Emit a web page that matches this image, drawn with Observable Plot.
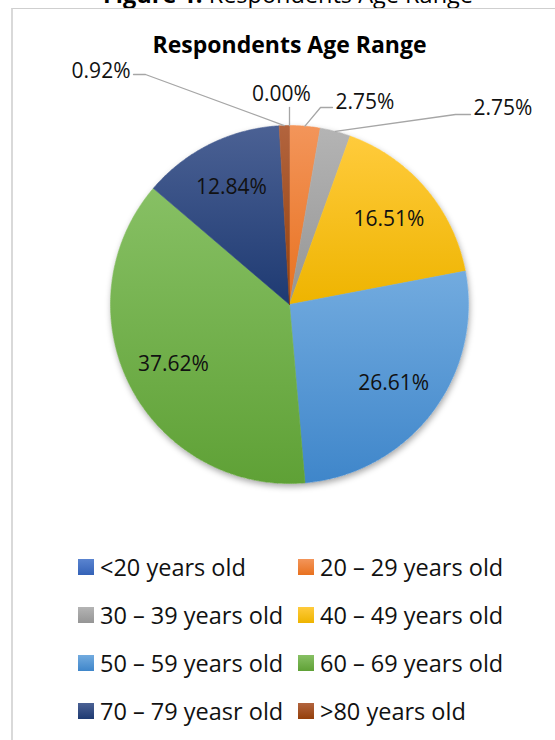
<!DOCTYPE html>
<html>
<head>
<meta charset="utf-8">
<script src="https://cdn.jsdelivr.net/npm/d3@7"></script>
<script src="https://cdn.jsdelivr.net/npm/@observablehq/plot@0.6"></script>
<style>
html, body { margin: 0; padding: 0; background: #fff; }
body { position: relative; width: 555px; height: 740px; overflow: hidden; font-family: "Open Sans", sans-serif; }
#header { position: absolute; left: 0; width: 576px; top: -19px; text-align: center; font-size: 23.5px; line-height: 26px; color: #000; white-space: nowrap; }
#box { position: absolute; left: 11px; top: 8px; width: 700px; height: 900px; border-left: 2px solid #d9d9d9; border-top: 1px solid #cfcfcf; background: #fff; }
#title { position: absolute; left: 0; width: 579px; top: 29px; text-align: center; font-weight: 700; font-size: 23px; line-height: 30px; color: #000; white-space: nowrap; }
#chart { position: absolute; left: 0; top: 0; }
#chart svg { font-family: "Open Sans", sans-serif; overflow: visible; }
#legend { position: absolute; left: 78px; top: 543px; width: 470px; }
#legend .lg-swatches { font-family: "Open Sans", sans-serif; font-size: 23.5px; margin: 0; display: flex; flex-wrap: wrap; min-height: 0; color: #111; }
#legend .lg-swatch { display: inline-flex; align-items: center; width: 220px; height: 48px; margin: 0; white-space: nowrap; }
#legend .lg-swatch svg { margin-right: 6px; flex: none; }
#defs { position: absolute; left: 0; top: 0; width: 0; height: 0; }
</style>
</head>
<body>
<div id="header"><b>Figure 1.</b> Respondents Age Range</div>
<div id="box"></div>
<svg id="defs" width="0" height="0"><defs>
  <filter id="pieShadow" x="-10%" y="-10%" width="120%" height="125%">
    <feDropShadow dx="1" dy="3" stdDeviation="3" flood-color="#000" flood-opacity="0.35"/>
  </filter>
</defs></svg>
<div id="chart"></div>
<div id="title">Respondents Age Range</div>
<div id="legend"></div>
<script>
// ---- data ----
const categories = [
  "<20 years old",
  "20 – 29 years old",
  "30 – 39 years old",
  "40 – 49 years old",
  "50 – 59 years old",
  "60 – 69 years old",
  "70 – 79 yeasr old",
  ">80 years old"
];
const percents = [0.00, 2.75, 2.75, 16.51, 26.61, 37.62, 12.84, 0.92];

// ---- styles (gradient top / bottom per category) ----
const colorTop    = ["#5a84d0", "#f3955a", "#b4b4b4", "#ffcb3c", "#72abdf", "#87c064", "#4b6194", "#b2643e"];
const colorBottom = ["#3462b7", "#e8711f", "#959595", "#eeb400", "#3f86ca", "#5fa136", "#1e3a72", "#943f0a"];

// ---- layout ----
const W = 555, H = 530;
const cx = 289, cy = 304, R = 179;
const insideRadius = 0.73;
const outsideLayout = {
  ">80 years old":     {tx: 130, ty: 71,  anchor: "end",    elbow: [[133, 74], [145, 74]]},
  "<20 years old":     {tx: 281, ty: 94,  anchor: "middle", elbow: [[289, 107]]},
  "20 – 29 years old": {tx: 335, ty: 102, anchor: "start",  elbow: [[332, 107], [320, 107]]},
  "30 – 39 years old": {tx: 473, ty: 108, anchor: "start",  elbow: [[470, 114], [455, 114]]}
};

// gradients
const gradIds = categories.map((c, i) => "grad" + i);
const defs = d3.select("#defs defs");
categories.forEach((c, i) => {
  const g = defs.append("linearGradient").attr("id", gradIds[i])
    .attr("x1", 0).attr("y1", 0).attr("x2", 0).attr("y2", 1);
  g.append("stop").attr("offset", "0%").attr("stop-color", colorTop[i]);
  g.append("stop").attr("offset", "100%").attr("stop-color", colorBottom[i]);
});
const gradUrls = gradIds.map(id => `url(#${id})`);
const colorOf = new Map(categories.map((c, i) => [c, gradUrls[i]]));

const rows = categories.map((key, i) => ({key, value: percents[i]}));
const arcs = d3.pie().sort(null).value(d => d.value)(rows);
const fmt = v => d3.format(".2f")(v) + "%";
const px = a => cx + R * Math.sin(a);
const py = a => cy - R * Math.cos(a);

function arcPolygon(a0, a1, withCenter) {
  const pts = [];
  if (withCenter) pts.push({x: cx, y: cy});
  const n = Math.max(2, Math.ceil((a1 - a0) / 0.01));
  for (let k = 0; k <= n; k++) {
    const t = a0 + (a1 - a0) * k / n;
    pts.push({x: px(t), y: py(t)});
  }
  if (withCenter) pts.push({x: cx, y: cy});
  return pts;
}

// shadow disc under the pie
const discPts = arcPolygon(0, 2 * Math.PI, false);

// one filled polygon per non-empty slice
const sliceMarks = arcs.filter(a => a.endAngle > a.startAngle).map(a =>
  Plot.line(arcPolygon(a.startAngle, a.endAngle, true), {
    x: "x", y: "y", fill: colorOf.get(a.data.key), stroke: colorOf.get(a.data.key), strokeWidth: 0.6
  })
);

// inside labels
const insideLabels = arcs.filter(a => !outsideLayout[a.data.key]).map(a => {
  const m = (a.startAngle + a.endAngle) / 2;
  return {x: cx + R * insideRadius * Math.sin(m), y: cy - R * insideRadius * Math.cos(m), text: fmt(a.data.value)};
});

// outside labels + leaders
const outsideLabels = [];
const leaderPts = [];
arcs.filter(a => outsideLayout[a.data.key]).forEach(a => {
  const L = outsideLayout[a.data.key];
  const m = (a.startAngle + a.endAngle) / 2;
  outsideLabels.push({x: L.tx, y: L.ty, text: fmt(a.data.value), anchor: L.anchor});
  L.elbow.forEach(([x, y]) => leaderPts.push({key: a.data.key, x, y}));
  leaderPts.push({key: a.data.key, x: px(m), y: py(m)});
});

const chart = Plot.plot({
  width: W, height: H,
  margin: 0,
  x: {domain: [0, W], range: [0, W], axis: null},
  y: {domain: [0, H], range: [0, H], axis: null},
  style: {background: "transparent", overflow: "visible"},
  marks: [
    Plot.line(discPts, {x: "x", y: "y", fill: "#ffffff", stroke: "none"}),
    ...sliceMarks,
    Plot.line(leaderPts, {x: "x", y: "y", z: "key", stroke: "#a6a6a6", strokeWidth: 1.3}),
    Plot.text(insideLabels, {x: "x", y: "y", text: "text", fontSize: 21, fill: "#111"}),
    Plot.text(outsideLabels.filter(d => d.anchor === "end"), {x: "x", y: "y", text: "text", fontSize: 21, fill: "#111", textAnchor: "end"}),
    Plot.text(outsideLabels.filter(d => d.anchor === "middle"), {x: "x", y: "y", text: "text", fontSize: 21, fill: "#111", textAnchor: "middle"}),
    Plot.text(outsideLabels.filter(d => d.anchor === "start"), {x: "x", y: "y", text: "text", fontSize: 21, fill: "#111", textAnchor: "start"})
  ]
});
d3.select(chart).select('g[aria-label="line"]').attr("filter", "url(#pieShadow)");
document.getElementById("chart").appendChild(chart);

const legend = Plot.legend({
  color: {type: "ordinal", domain: categories, range: gradUrls},
  legend: "swatches", className: "lg", swatchSize: 16
});
document.getElementById("legend").appendChild(legend);
</script>
</body>
</html>
